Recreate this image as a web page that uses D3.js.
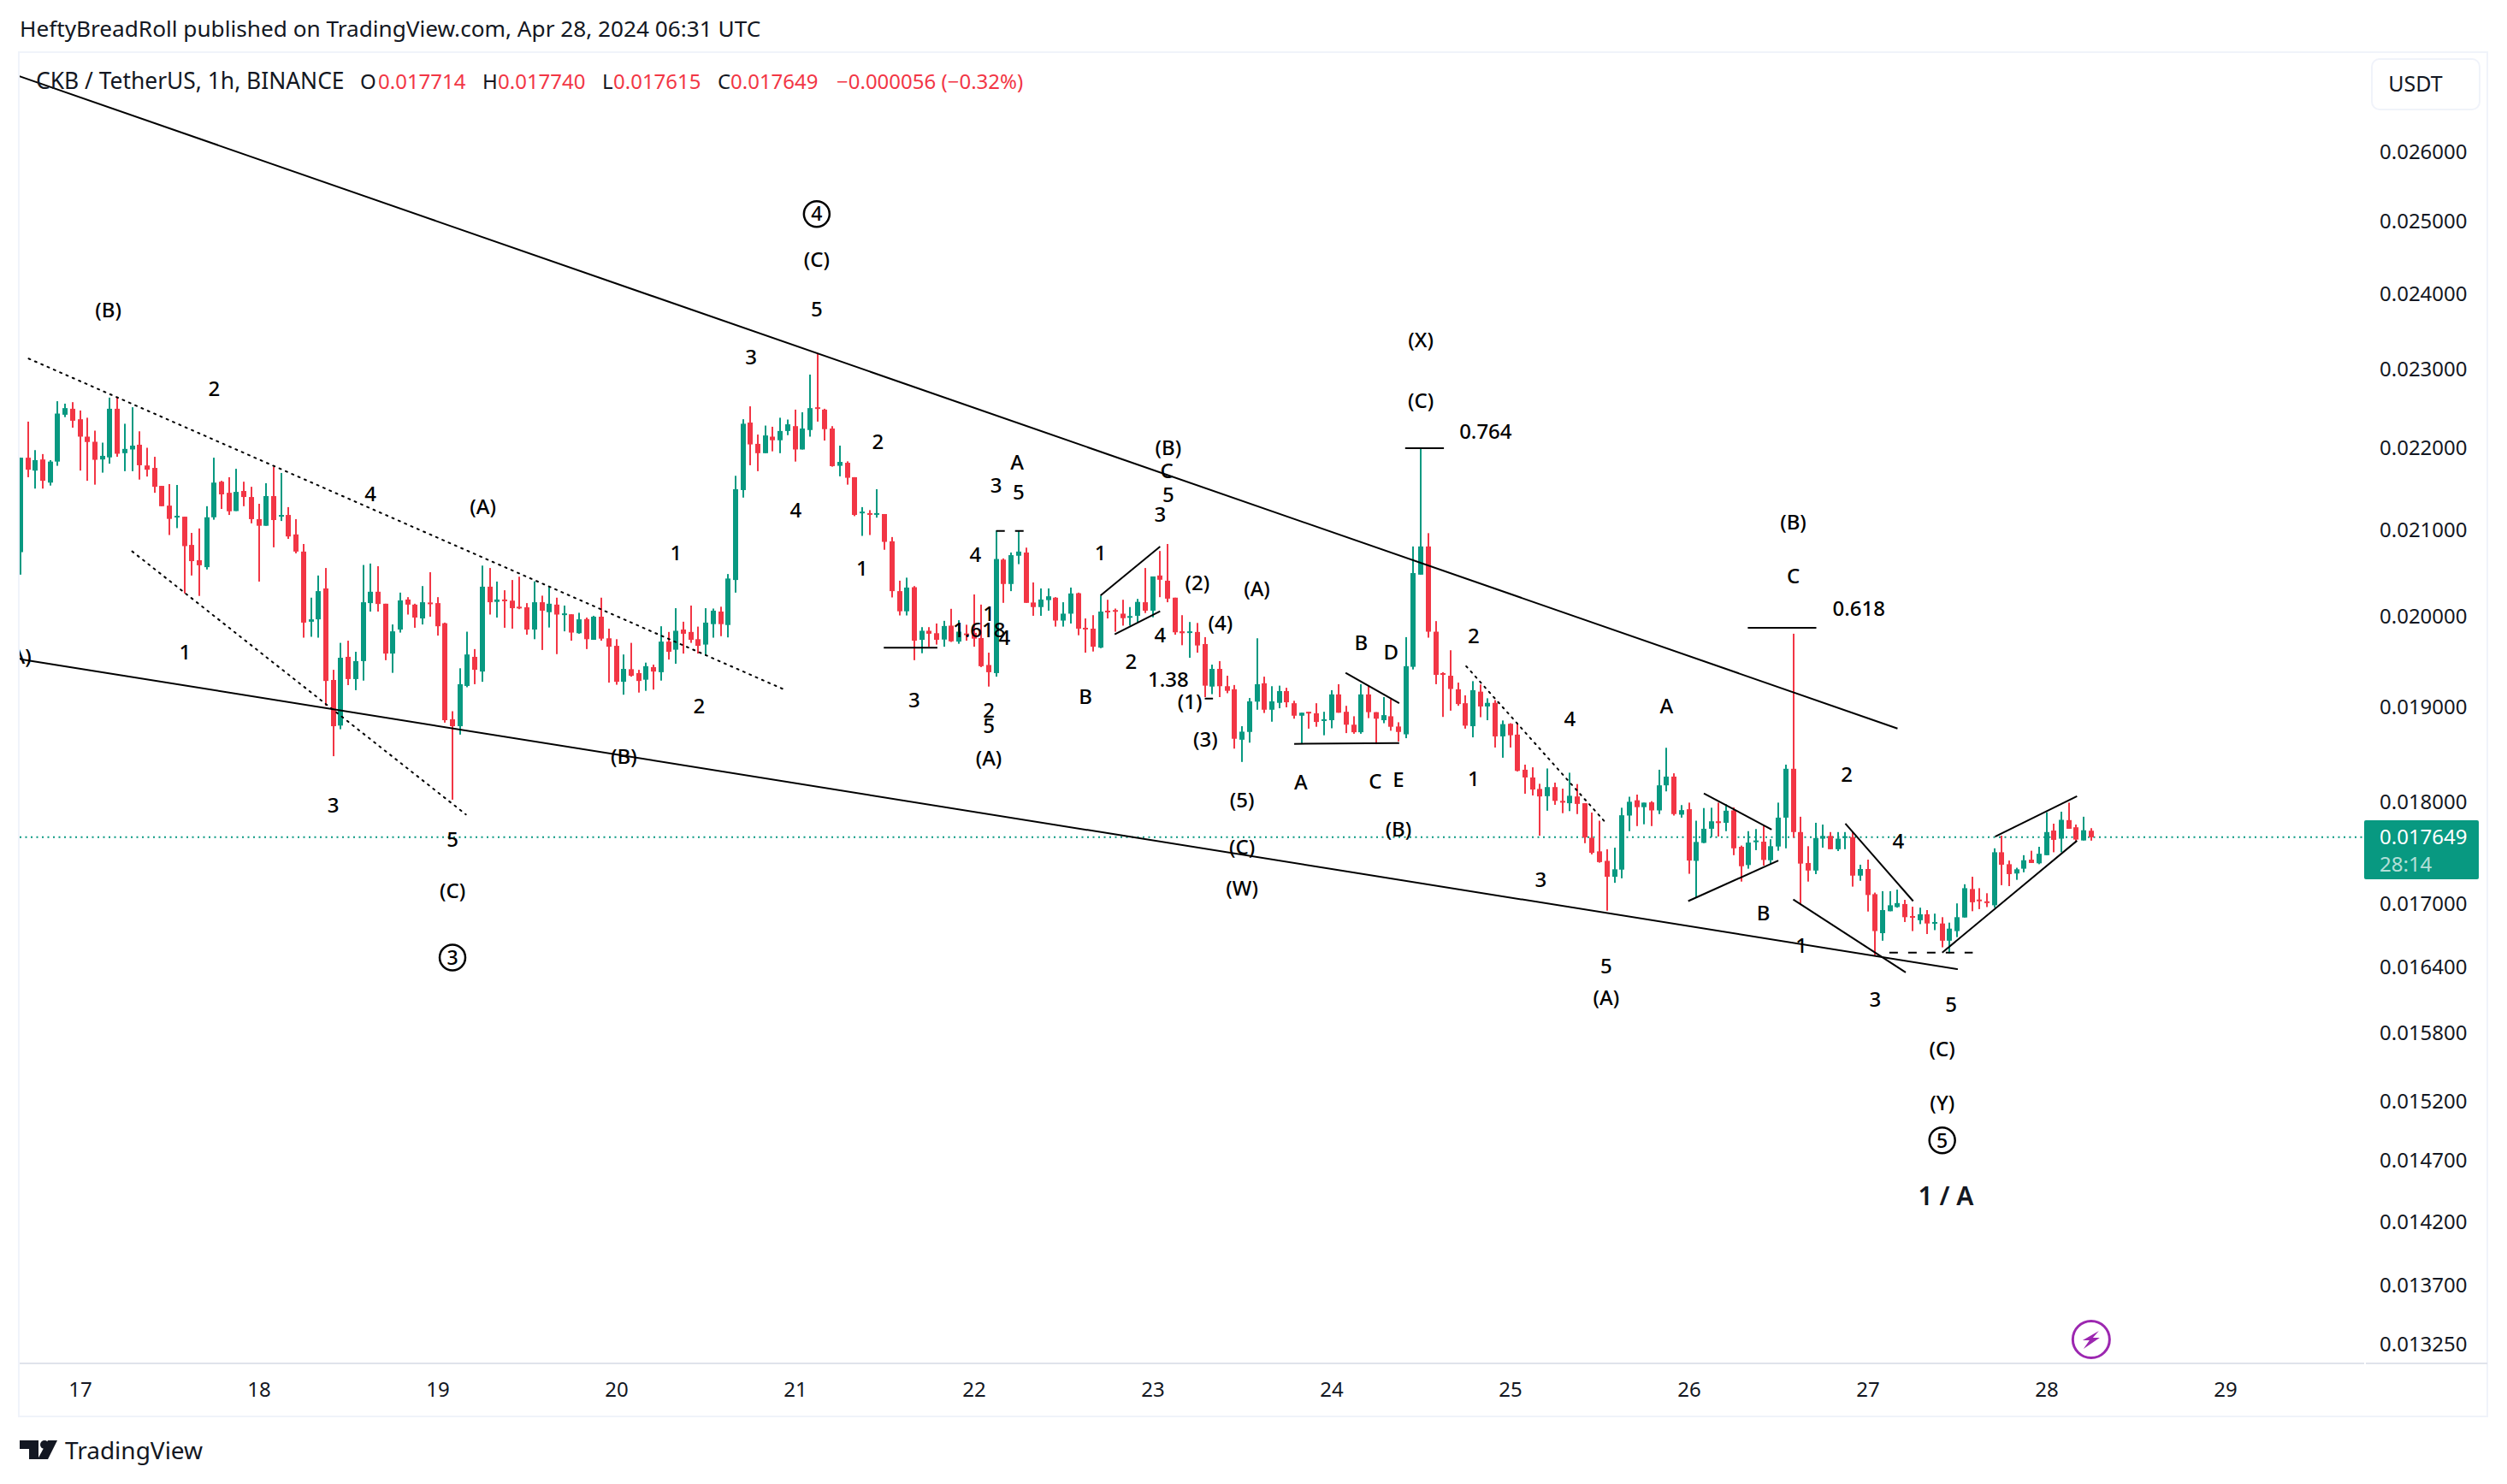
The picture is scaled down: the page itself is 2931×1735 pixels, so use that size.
<!DOCTYPE html>
<html>
<head>
<meta charset="utf-8">
<title>CKB / TetherUS</title>
<script src="https://cdn.jsdelivr.net/npm/d3@7"></script>
<style>
  html, body { margin: 0; padding: 0; background: #fff; }
  svg { display: block; }
  text { font-family: "Noto Sans", sans-serif; }
</style>
</head>
<body>
<div id="chart"></div>
<script>
// Hourly candles, prices in millionths of a USDT. First candle sits 8 hours before the "17" tick.
const firstBar = -8;
const opens = [20737,21875,21716,21853,21569,21827,22413,22489,
  22356,22137,22073,21853,21879,22489,21931,21977,22036,21779,
  21749,21529,21290,21157,21157,20822,20643,20562,21150,21580,
  21445,21225,21467,21394,21128,21049,21405,21160,21178,20946,
  20744,19937,19964,20316,19291,18800,19545,19301,19498,20148,
  20278,20141,19581,19849,20189,20131,19974,20155,20148,19920,
  18867,18793,19226,19545,19383,20336,20162,20189,20176,20107,
  20100,19849,20158,20045,20131,20018,20021,19808,19967,19734,
  19994,19751,19667,19271,19409,19366,19294,19432,19376,19714,
  19624,19849,19822,19741,19681,19910,20052,19900,20413,21478,
  22314,22047,21931,22137,22092,22208,22269,21977,22220,22508,
  22478,22239,21775,21812,21635,21200,21200,21182,21189,20865,
  20285,20055,20330,19734,19835,19808,19737,19893,19714,19805,
  19812,19754,19455,19366,20650,20367,20695,20733,20155,20103,
  20182,20210,19950,20028,20261,19869,19859,19647,20062,20069,
  20028,19984,20004,20158,20062,20465,20405,20210,19829,19818,
  19822,19687,19219,19412,19223,19190,18650,18732,19056,19255,
  18969,19043,19170,19039,18905,18947,18931,18854,18857,19134,
  18947,18809,18729,19134,18943,18857,18899,18790,18707,19435,
  20475,20804,19825,19366,19337,19190,19039,18793,19164,19004,
  19043,18685,18819,18704,18336,18256,18138,18064,18157,18016,
  17992,18061,17992,17644,17509,17415,17259,17329,17867,18022,
  17952,18001,17919,18175,18265,17876,17931,17415,17593,17734,
  17809,17794,17919,17554,17374,17605,17605,17421,17557,17846,
  18346,17701,17394,17320,17635,17662,17530,17647,17650,17270,
  17335,17090,16717,16926,16966,16995,16880,16840,16897,16809,
  16809,16646,16737,16866,17140,17038,17021,16983,17500,17382,
  17291,17338,17427,17391,17471,17716,17635,17821,17749,17617,
  17714];
const closes = [21875,21727,21845,21591,21827,22428,22497,22337,
  22137,22070,21849,21898,22489,21924,21984,22025,21782,21727,
  21518,21283,21131,21168,20808,20632,20584,21150,21569,21426,
  21222,21456,21394,21128,21049,21405,21117,21178,20922,20744,
  19927,19964,20285,19280,18793,19535,19301,19498,20158,20278,
  20138,19581,19829,20179,20131,19984,20158,20145,19886,18857,
  18793,19245,19571,19402,20336,20158,20189,20176,20090,20090,
  19849,20158,20062,20141,20018,20031,19815,19964,19741,19994,
  19747,19657,19271,19412,19337,19280,19442,19383,19714,19601,
  19835,19802,19734,19667,19927,20062,19910,20430,21489,22299,
  22040,21931,22152,22092,22208,22292,21977,22239,22497,22497,
  22231,21771,21823,21628,21178,21218,21186,21200,20858,20285,
  20055,20326,19724,19835,19802,19734,19889,19717,19825,19791,
  19747,19442,19376,20657,20367,20702,20744,20151,20103,20189,
  20226,19950,20028,20258,19859,19856,19657,20052,20048,20055,
  19977,20001,20162,20062,20454,20416,20199,19818,19808,19829,
  19671,19229,19412,19223,19173,18660,18735,19059,19245,18969,
  19059,19170,19049,18905,18937,18937,18838,18867,19134,18937,
  18809,18729,19134,18943,18873,18911,18787,18732,19442,20493,
  20804,19825,19347,19347,19193,19030,18799,19180,19004,19043,
  18685,18815,18697,18324,18256,18132,18061,18157,18016,17998,
  18068,17985,17647,17494,17403,17259,17332,17870,18007,17952,
  17998,17919,18175,18265,17882,17922,17418,17602,17734,17809,
  17791,17916,17539,17362,17596,17617,17424,17560,17846,18346,
  17701,17388,17320,17641,17662,17530,17635,17659,17270,17335,
  17082,16737,16937,16983,17004,16869,16869,16897,16809,16823,
  16646,16760,16869,17148,17012,17024,17004,17500,17377,17285,
  17332,17421,17394,17485,17701,17623,17824,17734,17626,17719,
  17649];
const highs = [21875,22326,21969,21920,21845,22585,22554,22573,
  22467,22375,22212,22062,22631,22631,22299,22508,22204,21998,
  21886,21529,21551,21540,21157,20964,21017,21283,21875,21591,
  21635,21738,21580,21518,21312,21562,21764,21687,21272,21128,
  20833,20210,20465,20552,19402,19700,19724,19601,20587,20604,
  20573,20141,19906,20268,20216,20141,20343,20503,20216,19927,
  18953,19419,19825,19631,20580,20552,20395,20295,20413,20451,
  20148,20398,20233,20336,20210,20120,20021,20038,19984,20004,
  20210,19859,19741,19571,19700,19402,19481,19459,19886,19822,
  20090,19937,20120,19882,20090,20086,20107,20482,21652,22356,
  22520,22163,22276,22261,22375,22352,22478,22444,22928,23195,
  22489,22269,22025,21830,21635,21272,21236,21489,21189,20915,
  20405,20440,20343,19876,19876,19917,19947,20083,19954,19903,
  20247,20131,19591,20993,20664,20733,20986,20790,20385,20316,
  20316,20216,20158,20326,20268,19974,20011,20233,20186,20086,
  20186,20103,20196,20552,20454,20751,20833,20210,20011,19934,
  19923,19764,19459,19498,19337,19236,18793,19095,19751,19327,
  19223,19229,19206,19065,18937,18947,19039,18947,19180,19245,
  19011,18899,19245,19229,18943,19105,19082,18835,19764,20804,
  21995,20961,19944,19376,19618,19262,19124,19278,19242,19092,
  19072,18854,18825,18825,18389,18361,18191,18349,18203,18141,
  18305,18188,17992,17897,17815,17530,17545,17946,18058,18080,
  17998,18013,18336,18565,18299,17973,17998,17815,17943,17946,
  17998,17982,17949,17566,17710,17731,17764,17629,17998,18389,
  19802,17855,17560,17794,17776,17701,17701,17701,17701,17377,
  17427,17105,17119,17119,17134,17035,16969,16960,16937,16903,
  16869,16817,17001,17186,17259,17148,17099,17539,17665,17418,
  17347,17471,17515,17554,17900,17785,17906,17998,17776,17855,
  17740];
const lows = [20475,21635,21496,21496,21533,21775,22383,22250,
  21716,21591,21544,21691,21801,21886,21709,21709,21606,21643,
  21445,21283,20939,21021,20258,20465,20230,20535,21121,21250,
  21178,21225,21283,21078,20395,21049,20794,21106,20893,20723,
  19758,19768,19758,19011,18477,18761,19235,19180,19284,20052,
  20052,19508,19369,19815,20018,19869,19906,19994,19781,18831,
  18028,18704,19212,19245,19271,20018,19984,19869,19859,20079,
  19791,19741,19621,19872,19575,19829,19724,19802,19631,19734,
  19724,19262,19239,19131,19327,19154,19173,19186,19284,19515,
  19469,19581,19700,19581,19558,19758,19775,19761,20268,21387,
  21782,21709,21931,21954,21931,22156,21827,21977,22137,22326,
  22088,21764,21646,21544,21164,20929,20939,21146,20765,20213,
  20008,20008,19508,19585,19657,19681,19657,19710,19690,19724,
  19657,19432,19219,19327,20151,20285,20597,20151,20004,20004,
  20062,19882,19882,19917,19785,19591,19604,19641,19974,19825,
  19893,19893,19927,20035,19987,20216,20158,19791,19674,19535,
  19591,19105,19137,19105,19147,18556,18417,18619,18969,18934,
  18841,18985,18995,18873,18603,18767,18787,18697,18771,18937,
  18720,18713,18713,18879,18603,18825,18745,18631,18666,19406,
  20475,19758,19245,18892,18959,19011,18767,18675,18889,18857,
  18568,18461,18568,18318,18089,18071,17665,17916,17976,17891,
  17912,17882,17590,17479,17397,16931,17200,17244,17710,17761,
  17779,17761,17882,18113,17867,17846,17288,17060,17590,17650,
  17656,17710,17471,17212,17338,17521,17368,17382,17515,17539,
  17644,16995,17212,17285,17545,17530,17512,17530,17163,17220,
  16923,16506,16646,16926,16960,16823,16737,16803,16709,16746,
  16584,16528,16680,16866,16926,16946,16966,16960,17177,17168,
  17229,17303,17394,17382,17471,17500,17500,17734,17614,17617,
  17615];

// Axis labels
const priceTicks = [0.026, 0.025, 0.024, 0.023, 0.022, 0.021, 0.02, 0.019, 0.018, 0.017,
  0.0164, 0.0158, 0.0152, 0.0147, 0.0142, 0.0137, 0.01325];
const dayTicks = [17, 18, 19, 20, 21, 22, 23, 24, 25, 26, 27, 28, 29];
const lastPrice = 0.017649;

// Elliott wave labels: text, bar, price
const waveLabels = [
  ["(B)",3.8,23780],["2",18,22750],["4",39,21436],["(A)",54.1,21282],["1",14.1,19594],
  ["3",34,17974],["5",50,17630],["(C)",50,17120],["(B)",73,18476],["2",83.1,19012],
  ["1",80,20728],["3",90.1,23162],["4",96.1,21241],["5",98.9,23798],["(C)",98.9,24473],
  ["2",107.1,22078],["1",105,20554],["3",112,19077],["4",120.2,20704],["3",123,21540],
  ["A",125.8,21824],["5",126,21457],["1",122,20027],["1.618",120.7,19850],["4",124.1,19755],
  ["2",122,18966],["5",122,18795],["(A)",122,18454],["1",137,20728],["B",135,19114],
  ["2",141.1,19493],["4",145,19793],["1.38",146.1,19295],["3",145,21189],["5",146.1,21426],
  ["C",145.9,21719],["(B)",146.1,22003],["(2)",150,20385],["(4)",153.1,19926],["(A)",158,20316],
  ["(1)",149,19058],["(3)",151.1,18651],["(5)",156,18026],["(C)",156,17553],["(W)",156,17150],
  ["A",163.9,18210],["B",172,19698],["D",176,19594],["C",173.9,18218],["E",177,18236],
  ["(B)",177,17734],["(X)",180,23377],["(C)",180,22588],["0.764",188.7,22207],["2",187.1,19783],
  ["1",187.1,18245],["4",200,18876],["3",196.1,17233],["5",204.9,16411],["(A)",204.9,16119],
  ["A",213,19006],["B",226,16908],["1",231.1,16605],["(B)",230,21089],["C",230,20464],
  ["0.618",238.8,20088],["2",237.2,18290],["4",244.1,17609],["3",241,16103],["5",251.2,16056],
  ["(C)",250,15661],["(Y)",250,15185],["(A)",-8.3,19546]
];
const circledLabels = [["3",50,16489],["4",98.9,25108],["5",250,14868]];
const cycleLabel = ["1 / A",250.5,14408];

// Hand drawn trend lines: bar1, price1, bar2, price2
const solidLines = [
  [-8.2,27144,244,18769],[-8,19519,252.1,16380],
  [107.9,19646,115.1,19646],[137,20234,145,20802],[138.9,19796,145,20055],
  [151,19089,152.1,19089],[163,18606,177.1,18615],[169.9,19369,177.1,19040],
  [177.9,21993,183.1,21993],[223.9,19869,233.1,19869],[218,18093,227.1,17726],
  [215.9,17023,228,17418],[237,17786,246.1,17023],[230,17038,245.1,16350],
  [250,16534,268.1,17615],[257.1,17655,268.1,18063]
];
const dottedLines = [
  [-6.9,23136,94.9,19174],[7,20746,51.8,17878],[186.1,19441,205,17780]
];
const dashedLines = [[123,20987,126.7,20987],[242.9,16534,254.1,16534]];

const width = 2931;
const height = 1735;
const paneLeft = 23;
const paneRight = 2764;
const paneTop = 61;
const paneBottom = 1594;
const frameRight = 2908;
const frameBottom = 1656;
const upColor = "#089981";
const downColor = "#f23645";
const textColor = "#131722";

const unit = 1e-6;
const bars = d3.range(opens.length).map(i => firstBar + i);

// Scales: one day is 24 bars, the price axis is logarithmic
const x = d3.scaleLinear().domain([0, 288]).range([93.6, 2601.6]);
const y = d3.scaleLog().domain([0.026, 0.01325]).range([178, 1571.5]);

const svg = d3.select("#chart").append("svg")
    .attr("width", width)
    .attr("height", height);

svg.append("rect")
    .attr("width", width)
    .attr("height", height)
    .attr("fill", "white");

svg.append("defs").append("clipPath")
    .attr("id", "pane")
  .append("rect")
    .attr("x", paneLeft)
    .attr("y", paneTop)
    .attr("width", paneRight - paneLeft)
    .attr("height", paneBottom - paneTop);

// Header line
svg.append("text")
    .attr("x", 23)
    .attr("y", 43)
    .attr("font-size", 26.2)
    .attr("fill", textColor)
    .text("HeftyBreadRoll published on TradingView.com, Apr 28, 2024 06:31 UTC");

// Outer frame and the line above the time axis
svg.append("rect")
    .attr("x", paneLeft - 1)
    .attr("y", paneTop)
    .attr("width", frameRight - paneLeft + 1)
    .attr("height", frameBottom - paneTop)
    .attr("fill", "none")
    .attr("stroke", "#f0f3fa")
    .attr("stroke-width", 2);

svg.append("line")
    .attr("x1", paneLeft)
    .attr("x2", paneRight)
    .attr("y1", paneBottom)
    .attr("y2", paneBottom)
    .attr("stroke", "#e0e3eb")
    .attr("stroke-width", 2);

svg.append("line")
    .attr("x1", paneRight + 2)
    .attr("x2", frameRight)
    .attr("y1", paneBottom)
    .attr("y2", paneBottom)
    .attr("stroke", "#e0e3eb")
    .attr("stroke-width", 2);

const pane = svg.append("g").attr("clip-path", "url(#pane)");

// Last price line
pane.append("line")
    .attr("x1", paneLeft)
    .attr("x2", paneRight)
    .attr("y1", y(lastPrice))
    .attr("y2", y(lastPrice))
    .attr("stroke", upColor)
    .attr("stroke-width", 2)
    .attr("stroke-dasharray", "2 4.5");

// Candles
const candle = pane.selectAll("g.candle")
    .data(bars)
    .join("g")
    .attr("class", "candle")
    .attr("fill", (d, i) => closes[i] >= opens[i] ? upColor : downColor);

candle.append("rect")
    .attr("x", d => Math.round(x(d)) - 1)
    .attr("width", 2)
    .attr("y", (d, i) => y(highs[i] * unit))
    .attr("height", (d, i) => y(lows[i] * unit) - y(highs[i] * unit));

candle.append("rect")
    .attr("x", d => Math.round(x(d)) - 3)
    .attr("width", 6)
    .attr("y", (d, i) => y(Math.max(opens[i], closes[i]) * unit))
    .attr("height", (d, i) => Math.max(2, Math.abs(y(opens[i] * unit) - y(closes[i] * unit))));

// Trend lines
function drawLines(rows, dash, w) {
  pane.append("g").selectAll("line")
      .data(rows)
      .join("line")
      .attr("x1", d => x(d[0]))
      .attr("y1", d => y(d[1] * unit))
      .attr("x2", d => x(d[2]))
      .attr("y2", d => y(d[3] * unit))
      .attr("stroke", "black")
      .attr("stroke-width", w)
      .attr("stroke-linecap", dash === "2 6" ? "round" : "butt")
      .attr("stroke-dasharray", dash);
}
drawLines(solidLines, null, 2);
drawLines(dottedLines, "2 6", 2);
drawLines(dashedLines, "10 12", 2);

// Wave labels
pane.append("g").selectAll("text")
    .data(waveLabels)
    .join("text")
    .attr("x", d => x(d[1]))
    .attr("y", d => y(d[2] * unit))
    .attr("dy", "0.36em")
    .attr("text-anchor", "middle")
    .attr("font-size", 24)
    .attr("font-weight", 500)
    .attr("fill", "black")
    .text(d => d[0]);

const circled = pane.append("g").selectAll("g")
    .data(circledLabels)
    .join("g")
    .attr("transform", d => `translate(${x(d[1])},${y(d[2] * unit)})`);

circled.append("circle")
    .attr("r", 15)
    .attr("fill", "none")
    .attr("stroke", "black")
    .attr("stroke-width", 2.5);

circled.append("text")
    .attr("dy", "0.36em")
    .attr("text-anchor", "middle")
    .attr("font-size", 23)
    .attr("font-weight", 500)
    .attr("fill", "black")
    .text(d => d[0]);

pane.append("text")
    .attr("x", x(cycleLabel[1]))
    .attr("y", y(cycleLabel[2] * unit))
    .attr("dy", "0.36em")
    .attr("text-anchor", "middle")
    .attr("font-size", 30)
    .attr("font-weight", 600)
    .attr("fill", textColor)
    .text(cycleLabel[0]);

// Legend line
const legendParts = [
  ["CKB / TetherUS, 1h, BINANCE", 42, textColor, 26.4],
  ["O", 421, textColor, 24], ["0.017714", 442, downColor, 24],
  ["H", 564, textColor, 24], ["0.017740", 582, downColor, 24],
  ["L", 704, textColor, 24], ["0.017615", 717, downColor, 24],
  ["C", 839, textColor, 24], ["0.017649", 854, downColor, 24],
  ["\u22120.000056 (\u22120.32%)", 978, downColor, 24]
];
svg.append("g").selectAll("text")
    .data(legendParts)
    .join("text")
    .attr("x", d => d[1])
    .attr("y", 104)
    .attr("font-size", d => d[3])
    .attr("fill", d => d[2])
    .text(d => d[0]);

// Currency button
svg.append("rect")
    .attr("x", 2773)
    .attr("y", 69)
    .attr("width", 126)
    .attr("height", 59)
    .attr("rx", 9)
    .attr("fill", "white")
    .attr("stroke", "#f0f3fa")
    .attr("stroke-width", 2);

svg.append("text")
    .attr("x", 2824)
    .attr("y", 107)
    .attr("text-anchor", "middle")
    .attr("font-size", 25)
    .attr("fill", textColor)
    .text("USDT");

// Price axis
const priceAxis = svg.append("g")
    .attr("transform", "translate(2782,0)")
    .call(d3.axisRight(y).tickValues(priceTicks).tickFormat(d3.format(".6f")).tickSize(0).tickPadding(0));
priceAxis.select(".domain").remove();
priceAxis.selectAll("text")
    .attr("font-family", "\"Noto Sans\", sans-serif")
    .attr("font-size", 24)
    .attr("fill", textColor);

// Last price tag
svg.append("rect")
    .attr("x", 2764)
    .attr("y", 959)
    .attr("width", 134)
    .attr("height", 69)
    .attr("rx", 2)
    .attr("fill", upColor);

svg.append("text")
    .attr("x", 2782)
    .attr("y", y(lastPrice))
    .attr("dy", "0.32em")
    .attr("font-size", 24)
    .attr("fill", "white")
    .text(d3.format(".6f")(lastPrice));

svg.append("text")
    .attr("x", 2782)
    .attr("y", 1019)
    .attr("font-size", 24)
    .attr("fill", "white")
    .attr("fill-opacity", 0.7)
    .text("28:14");

// Time axis
const timeAxis = svg.append("g")
    .attr("transform", "translate(0,1616)")
    .call(d3.axisBottom(x)
      .tickValues(dayTicks.map(d => (d - 17) * 24))
      .tickFormat((d, i) => dayTicks[i])
      .tickSize(0)
      .tickPadding(0));
timeAxis.select(".domain").remove();
timeAxis.selectAll("text")
    .attr("font-family", "\"Noto Sans\", sans-serif")
    .attr("font-size", 24)
    .attr("fill", textColor);

// Lightning marker under the last candle
const marker = svg.append("g")
    .attr("transform", `translate(${x(270)},1566)`);

marker.append("circle")
    .attr("r", 21.5)
    .attr("fill", "white")
    .attr("stroke", "#9c27b0")
    .attr("stroke-width", 3);

marker.append("path")
    .attr("d", "M9,-10 L-10,1 L-2,1 L-9,11 L10,-2 L2,-2 Z")
    .attr("fill", "#9c27b0");

// TradingView logo
const logo = svg.append("g")
    .attr("transform", "translate(23,1684)")
    .attr("fill", textColor);

logo.append("path").attr("d", "M0,0 H22 V22 H11 V10 H0 Z");
logo.append("circle").attr("cx", 29).attr("cy", 5).attr("r", 5);
logo.append("path").attr("d", "M33,0 H44 L33,22 H21 Z");

svg.append("text")
    .attr("x", 76)
    .attr("y", 1706)
    .attr("font-size", 28)
    .attr("fill", textColor)
    .text("TradingView");
</script>
</body>
</html>
